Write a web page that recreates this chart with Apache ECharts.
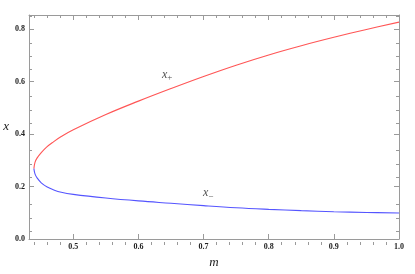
<!DOCTYPE html>
<html><head><meta charset="utf-8">
<script src="https://cdn.jsdelivr.net/npm/echarts@6/dist/echarts.min.js"></script>
<style>html,body{margin:0;padding:0;background:#fff}#c{width:415px;height:274px}</style>
</head><body><div id="c"></div>
<script>
// ---- data ----
const mPlus  = [0.4395,0.4412,0.4443,0.4505,0.459,0.4695,0.4815,0.50,0.55,0.60,0.65,0.70,0.75,0.80,0.85,0.90,0.95,1.0];
const xPlus  = [0.268,0.292,0.308,0.328,0.350,0.370,0.390,0.416,0.474,0.525,0.573,0.619,0.662,0.701,0.736,0.768,0.798,0.826];
const mMinus = [0.4395,0.4413,0.4444,0.4508,0.46,0.47,0.4815,0.50,0.55,0.60,0.65,0.70,0.75,0.80,0.85,0.90,0.95,1.0];
const xMinus = [0.268,0.247,0.233,0.214,0.198,0.187,0.178,0.170,0.156,0.145,0.136,0.127,0.119,0.113,0.108,0.104,0.101,0.099];
const xTicksMajor = [0.5,0.6,0.7,0.8,0.9,1.0];
const xTicksMinor = [0.44,0.46,0.48,0.52,0.54,0.56,0.58,0.62,0.64,0.66,0.68,0.72,0.74,0.76,0.78,0.82,0.84,0.86,0.88,0.92,0.94,0.96,0.98];
const yTicksMajor = [0.0,0.2,0.4,0.6,0.8];
const yTicksMinor = [0.05,0.1,0.15,0.25,0.3,0.35,0.45,0.5,0.55,0.65,0.7,0.75,0.85];
const labelPlus  = {m:0.644, x:0.627, text:'+'};
const labelMinus = {m:0.707, x:0.174, text:'\u2212'};
const xMin = 0.432, xMax = 1.0, yMin = 0, yMax = 0.853;

const gray = '#9a9a9a';
const serif = '"Liberation Serif","DejaVu Serif",serif';
function xa(grid, pos, major, labels){
  return {type:'value', gridIndex:grid, position:pos, min:xMin, max:xMax,
    axisLine:{show:major, onZero:false, lineStyle:{color:gray, width:1}},
    axisTick:{show:true, inside:true, length: major?5:3, customValues: major?xTicksMajor:xTicksMinor, lineStyle:{color:gray}},
    axisLabel:{show:labels, customValues:xTicksMajor, formatter:v=>v.toFixed(1), fontFamily:serif, fontWeight:'bold', fontSize:8, color:'#222', margin:4},
    splitLine:{show:false},
    name: labels?'m':'', nameLocation:'middle', nameGap:17,
    nameTextStyle:{fontFamily:serif, fontStyle:'italic', fontSize:13, color:'#222'}
  };
}
function ya(grid, pos, major, labels){
  return {type:'value', gridIndex:grid, position:pos, min:yMin, max:yMax,
    axisLine:{show:major, onZero:false, lineStyle:{color:gray, width:1}},
    axisTick:{show:true, inside:true, length: major?5:3, customValues: major?yTicksMajor:yTicksMinor, lineStyle:{color:gray}},
    axisLabel:{show:labels, customValues:yTicksMajor, formatter:v=>v.toFixed(1), fontFamily:serif, fontWeight:'bold', fontSize:8, color:'#222', margin:4},
    splitLine:{show:false},
    name: labels?'x':'', nameLocation:'middle', nameGap:20, nameRotate:0,
    nameTextStyle:{fontFamily:serif, fontStyle:'italic', fontSize:13, color:'#222'}
  };
}
const rich = {
  i:{fontFamily:serif, fontStyle:'italic', fontSize:12, color:'#222'},
  s:{fontFamily:serif, fontSize:9, color:'#222', padding:[6,0,0,0]}
};
const g = {left:29, right:16, top:15, bottom:29, containLabel:false};
const chart = echarts.init(document.getElementById('c'), null, {renderer:'canvas'});
chart.setOption({
  animation:false,
  grid:[Object.assign({}, g), Object.assign({}, g)],
  xAxis:[xa(0,'bottom',true,true), xa(0,'top',true,false), xa(1,'bottom',false,false), xa(1,'top',false,false)],
  yAxis:[ya(0,'left',true,true), ya(0,'right',true,false), ya(1,'left',false,false), ya(1,'right',false,false)],
  series:[
    {type:'line', name:'x+', data:mPlus.map((m,i)=>[m,xPlus[i]]), smooth:0.4, showSymbol:false,
     lineStyle:{color:'rgb(255,85,85)', width:1.1}, xAxisIndex:0, yAxisIndex:0},
    {type:'line', name:'x-', data:mMinus.map((m,i)=>[m,xMinus[i]]), smooth:0.4, showSymbol:false,
     lineStyle:{color:'rgb(85,85,255)', width:1.1}, xAxisIndex:0, yAxisIndex:0},
    {type:'scatter', symbolSize:0, xAxisIndex:0, yAxisIndex:0,
     data:[labelPlus, labelMinus].map(l=>({value:[l.m,l.x], label:{show:true, position:'inside', formatter:'{i|x}{s|'+l.text+'}', rich:rich}}))}
  ]
});
</script></body></html>
